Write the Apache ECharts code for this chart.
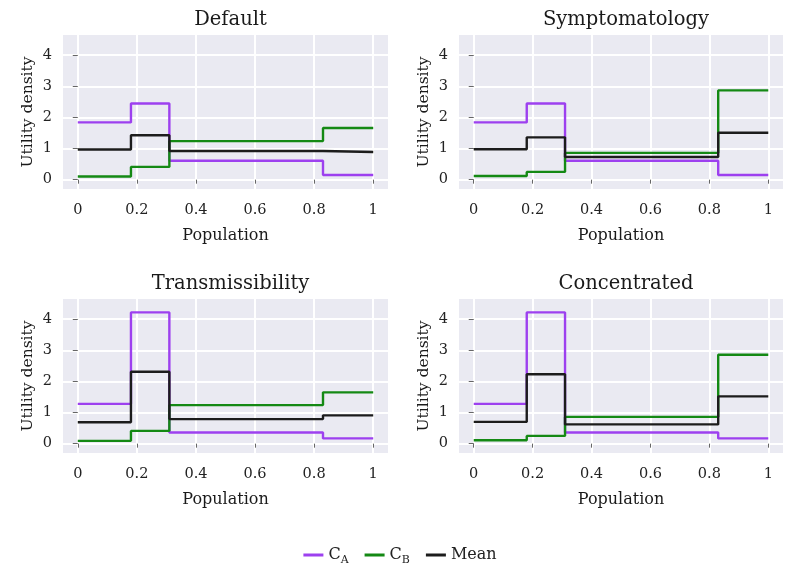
<!DOCTYPE html>
<html>
<head>
<meta charset="utf-8">
<script src="https://cdn.jsdelivr.net/npm/echarts@6/dist/echarts.min.js"></script>
<style>
  html, body { margin: 0; padding: 0; background: #fff; }
  #my_echarts { width: 800px; height: 567px; }
</style>
</head>
<body>
<div id="my_echarts"></div>
<script>
// breakpoints on the population axis
var breaks = [0, 0.18, 0.31, 0.83, 1];
var panelTitles = ['Default', 'Symptomatology', 'Transmissibility', 'Concentrated'];
var xTicks = [0, 0.2, 0.4, 0.6, 0.8, 1];
var yTicks = [0, 1, 2, 3, 4];

// segment values per panel: [Default, Symptomatology, Transmissibility, Concentrated]
var cA = [
    [1.84, 2.45, 0.61, 0.15],
    [1.84, 2.45, 0.61, 0.15],
    [1.28, 4.22, 0.36, 0.17],
    [1.28, 4.22, 0.36, 0.17]
];
var cB = [
    [0.10, 0.41, 1.24, 1.66],
    [0.12, 0.25, 0.86, 2.87],
    [0.09, 0.41, 1.24, 1.65],
    [0.11, 0.25, 0.86, 2.86]
];
var mean = [
    [0.97, 1.43, 0.92, 0.89],
    [0.98, 1.36, 0.73, 1.51],
    [0.69, 2.31, 0.79, 0.91],
    [0.70, 2.23, 0.62, 1.52]
];

var seriesNames = ['C_A', 'C_B', 'Mean'];
var colors = ['#9d40ef', '#148914', '#1c1c1c'];

var font = 'DejaVu Serif';

// grid boxes (px)
var grids = [
    {left: 63, top: 35, width: 325, height: 154},
    {left: 459, top: 35, width: 324, height: 154},
    {left: 63, top: 299, width: 325, height: 154},
    {left: 459, top: 299, width: 324, height: 154}
];

function stepData(vals) {
    var out = [];
    for (var i = 0; i < breaks.length; i++) {
        out.push([breaks[i], vals[Math.min(i, vals.length - 1)]]);
    }
    return out;
}

var myChart = echarts.init(document.getElementById('my_echarts'));
var option = {
    backgroundColor: '#ffffff',
    textStyle: {fontFamily: font},
    title: [],
    grid: [],
    xAxis: [],
    yAxis: [],
    series: [],
    legend: {
        data: seriesNames,
        top: 541,
        left: 'center',
        icon: 'rect',
        itemWidth: 20,
        itemHeight: 3,
        itemGap: 16,
        textStyle: {
            fontFamily: font,
            fontSize: 16,
            color: '#222',
            rich: {
                n: {fontFamily: font, fontSize: 16, color: '#222', lineHeight: 22},
                s: {fontFamily: font, fontSize: 11, color: '#222', lineHeight: 12, verticalAlign: 'bottom', padding: [9, 0, 0, 0]}
            }
        },
        formatter: function (name) {
            if (name.indexOf('_') > 0) {
                var p = name.split('_');
                return '{n|' + p[0] + '}{s|' + p[1] + '}';
            }
            return '{n|' + name + '}';
        }
    }
};

for (var k = 0; k < 4; k++) {
    var g = grids[k];
    option.grid.push({
        left: g.left, top: g.top, width: g.width, height: g.height,
        show: true, backgroundColor: '#eaeaf2', borderWidth: 0
    });
    option.title.push({
        text: panelTitles[k],
        left: g.left + g.width / 2,
        top: g.top - 30,
        textAlign: 'center',
        textStyle: {fontFamily: font, fontSize: 19.5, fontWeight: 'normal', color: '#1a1a1a'}
    });
    option.xAxis.push({
        type: 'value', gridIndex: k, min: -0.05, max: 1.05,
        offset: 2,
        name: 'Population', nameLocation: 'middle', nameGap: 37,
        nameTextStyle: {fontFamily: font, fontSize: 16, color: '#1a1a1a'},
        axisLine: {show: false},
        axisTick: {show: true, length: 4, customValues: xTicks, lineStyle: {color: '#666'}},
        axisLabel: {customValues: xTicks, fontFamily: font, fontSize: 14.5, color: '#222', margin: 12},
        splitLine: {show: true, lineStyle: {color: '#ffffff', width: 2}}
    });
    option.yAxis.push({
        type: 'value', gridIndex: k, min: -0.3, max: 4.65,
        name: 'Utility density', nameLocation: 'middle', nameGap: 27,
        nameTextStyle: {fontFamily: font, fontSize: 15.5, color: '#1a1a1a'},
        axisLine: {show: false},
        axisTick: {show: true, length: 5, customValues: yTicks, lineStyle: {color: '#666'}},
        axisLabel: {customValues: yTicks, fontFamily: font, fontSize: 14.5, color: '#222', margin: 11},
        splitLine: {show: true, lineStyle: {color: '#ffffff', width: 2}}
    });
    var sets = [cA[k], cB[k], mean[k]];
    for (var s = 0; s < 3; s++) {
        option.series.push({
            name: seriesNames[s],
            type: 'line',
            step: 'end',
            xAxisIndex: k,
            yAxisIndex: k,
            showSymbol: false,
            animation: false,
            lineStyle: {width: 2.4, color: colors[s]},
            itemStyle: {color: colors[s]},
            data: stepData(sets[s])
        });
    }
}

myChart.setOption(option);
</script>
</body>
</html>
